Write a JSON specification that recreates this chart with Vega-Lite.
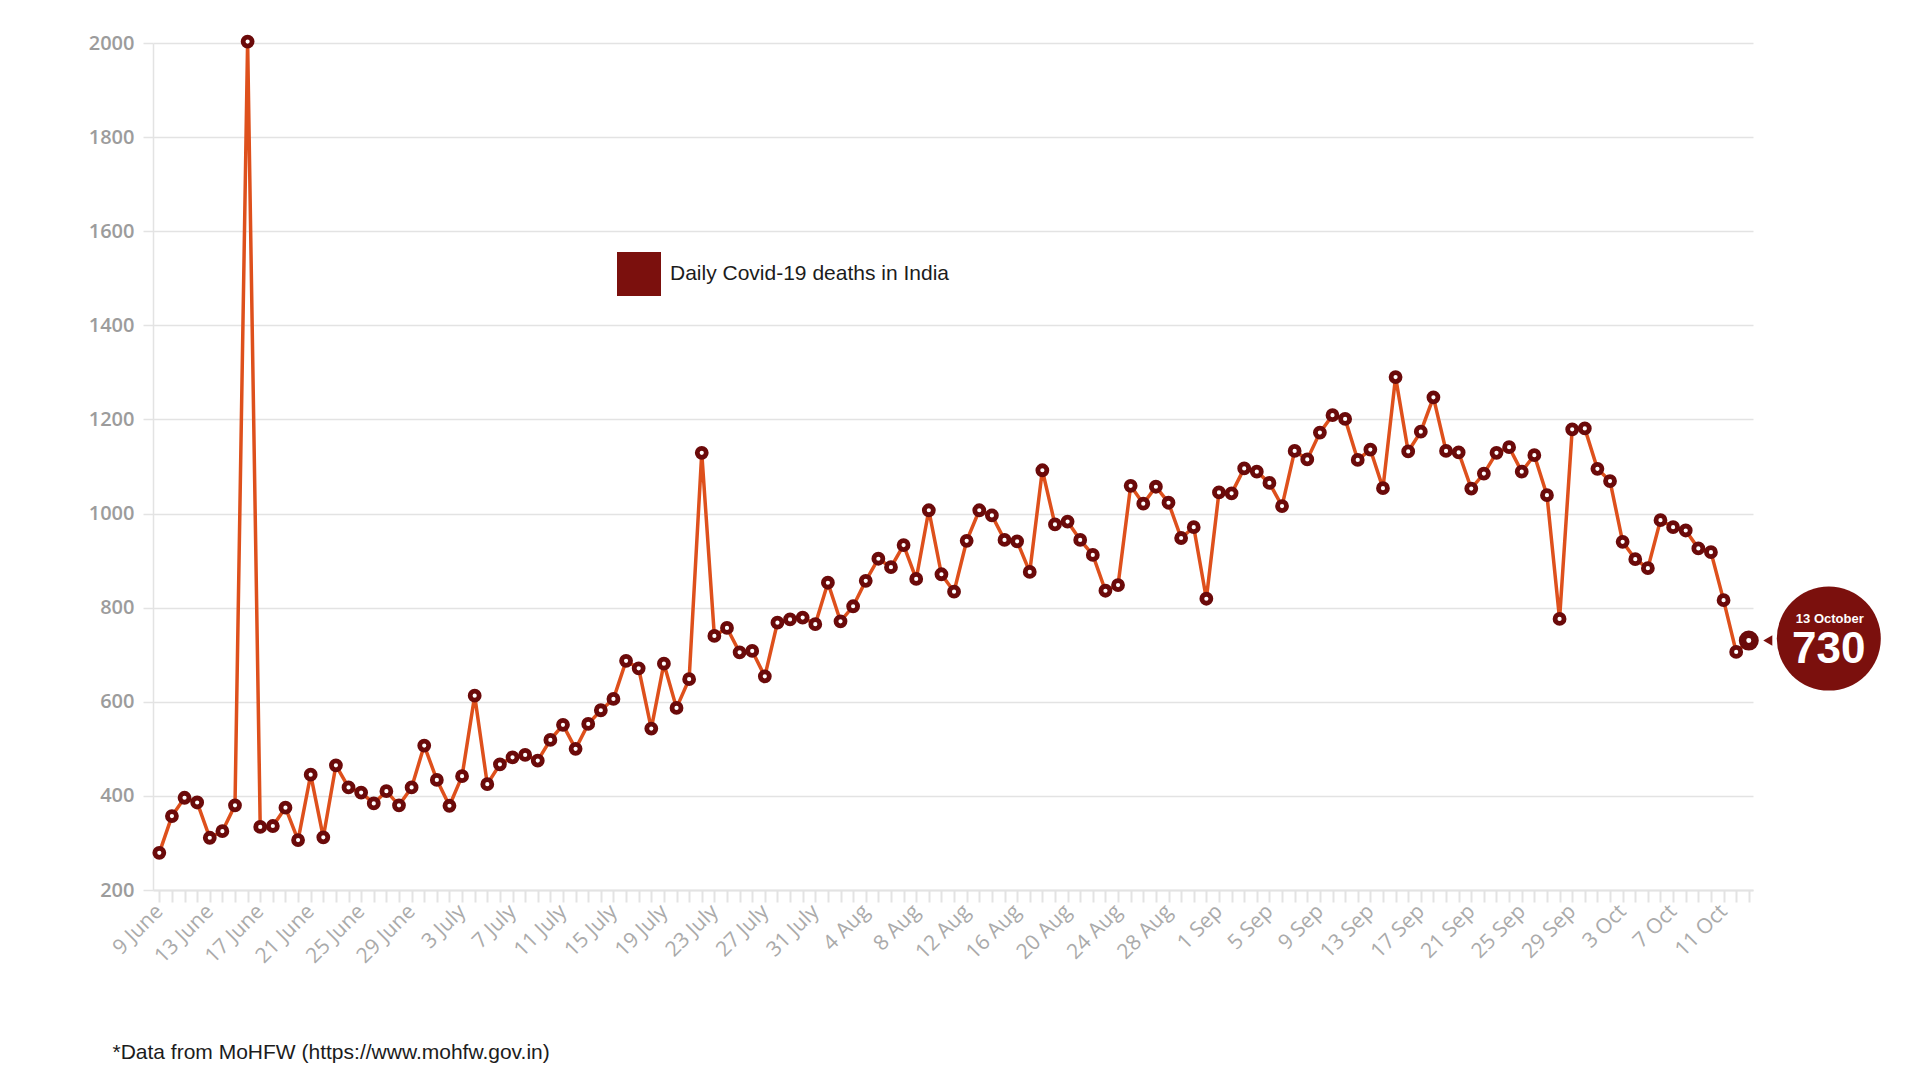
{
  "$schema": "https://vega.github.io/schema/vega-lite/v6.json",
  "width": 1600,
  "height": 847,
  "autosize": {"type": "none"},
  "padding": {"left": 153, "top": 43, "right": 167, "bottom": 190},
  "background": "white",
  "config": {"view": {"stroke": null}, "font": "Open Sans"},
  "data": {"values": [
    {"date":"2020-06-09","deaths":279},{"date":"2020-06-10","deaths":357},{"date":"2020-06-11","deaths":396},{"date":"2020-06-12","deaths":386},{"date":"2020-06-13","deaths":311},{"date":"2020-06-14","deaths":325},{"date":"2020-06-15","deaths":380},{"date":"2020-06-16","deaths":2003},{"date":"2020-06-17","deaths":334},{"date":"2020-06-18","deaths":336},{"date":"2020-06-19","deaths":375},{"date":"2020-06-20","deaths":306},{"date":"2020-06-21","deaths":445},{"date":"2020-06-22","deaths":312},{"date":"2020-06-23","deaths":465},{"date":"2020-06-24","deaths":418},{"date":"2020-06-25","deaths":407},{"date":"2020-06-26","deaths":384},{"date":"2020-06-27","deaths":410},{"date":"2020-06-28","deaths":380},{"date":"2020-06-29","deaths":418},{"date":"2020-06-30","deaths":507},
    {"date":"2020-07-01","deaths":434},{"date":"2020-07-02","deaths":379},{"date":"2020-07-03","deaths":442},{"date":"2020-07-04","deaths":613},{"date":"2020-07-05","deaths":425},{"date":"2020-07-06","deaths":467},{"date":"2020-07-07","deaths":482},{"date":"2020-07-08","deaths":487},{"date":"2020-07-09","deaths":475},{"date":"2020-07-10","deaths":519},{"date":"2020-07-11","deaths":551},{"date":"2020-07-12","deaths":500},{"date":"2020-07-13","deaths":553},{"date":"2020-07-14","deaths":582},{"date":"2020-07-15","deaths":606},{"date":"2020-07-16","deaths":687},{"date":"2020-07-17","deaths":671},{"date":"2020-07-18","deaths":543},{"date":"2020-07-19","deaths":681},{"date":"2020-07-20","deaths":587},{"date":"2020-07-21","deaths":648},{"date":"2020-07-22","deaths":1129},{"date":"2020-07-23","deaths":740},{"date":"2020-07-24","deaths":757},{"date":"2020-07-25","deaths":705},{"date":"2020-07-26","deaths":708},{"date":"2020-07-27","deaths":654},{"date":"2020-07-28","deaths":768},{"date":"2020-07-29","deaths":775},{"date":"2020-07-30","deaths":779},{"date":"2020-07-31","deaths":765},
    {"date":"2020-08-01","deaths":853},{"date":"2020-08-02","deaths":771},{"date":"2020-08-03","deaths":803},{"date":"2020-08-04","deaths":857},{"date":"2020-08-05","deaths":904},{"date":"2020-08-06","deaths":886},{"date":"2020-08-07","deaths":933},{"date":"2020-08-08","deaths":861},{"date":"2020-08-09","deaths":1007},{"date":"2020-08-10","deaths":871},{"date":"2020-08-11","deaths":834},{"date":"2020-08-12","deaths":942},{"date":"2020-08-13","deaths":1007},{"date":"2020-08-14","deaths":996},{"date":"2020-08-15","deaths":944},{"date":"2020-08-16","deaths":941},{"date":"2020-08-17","deaths":876},{"date":"2020-08-18","deaths":1092},{"date":"2020-08-19","deaths":977},{"date":"2020-08-20","deaths":983},{"date":"2020-08-21","deaths":944},{"date":"2020-08-22","deaths":912},{"date":"2020-08-23","deaths":836},{"date":"2020-08-24","deaths":848},{"date":"2020-08-25","deaths":1059},{"date":"2020-08-26","deaths":1021},{"date":"2020-08-27","deaths":1057},{"date":"2020-08-28","deaths":1023},{"date":"2020-08-29","deaths":948},{"date":"2020-08-30","deaths":971},{"date":"2020-08-31","deaths":819},
    {"date":"2020-09-01","deaths":1045},{"date":"2020-09-02","deaths":1043},{"date":"2020-09-03","deaths":1096},{"date":"2020-09-04","deaths":1089},{"date":"2020-09-05","deaths":1065},{"date":"2020-09-06","deaths":1016},{"date":"2020-09-07","deaths":1133},{"date":"2020-09-08","deaths":1115},{"date":"2020-09-09","deaths":1172},{"date":"2020-09-10","deaths":1209},{"date":"2020-09-11","deaths":1201},{"date":"2020-09-12","deaths":1114},{"date":"2020-09-13","deaths":1136},{"date":"2020-09-14","deaths":1054},{"date":"2020-09-15","deaths":1290},{"date":"2020-09-16","deaths":1132},{"date":"2020-09-17","deaths":1174},{"date":"2020-09-18","deaths":1247},{"date":"2020-09-19","deaths":1133},{"date":"2020-09-20","deaths":1130},{"date":"2020-09-21","deaths":1053},{"date":"2020-09-22","deaths":1085},{"date":"2020-09-23","deaths":1129},{"date":"2020-09-24","deaths":1141},{"date":"2020-09-25","deaths":1089},{"date":"2020-09-26","deaths":1124},{"date":"2020-09-27","deaths":1039},{"date":"2020-09-28","deaths":776},{"date":"2020-09-29","deaths":1179},{"date":"2020-09-30","deaths":1181},
    {"date":"2020-10-01","deaths":1095},{"date":"2020-10-02","deaths":1069},{"date":"2020-10-03","deaths":940},{"date":"2020-10-04","deaths":903},{"date":"2020-10-05","deaths":884},{"date":"2020-10-06","deaths":986},{"date":"2020-10-07","deaths":971},{"date":"2020-10-08","deaths":964},{"date":"2020-10-09","deaths":926},{"date":"2020-10-10","deaths":918},{"date":"2020-10-11","deaths":816},{"date":"2020-10-12","deaths":706},{"date":"2020-10-13","deaths":730}
  ]},
  "encoding": {
    "x": {
      "field": "date",
      "type": "temporal",
      "scale": {"type": "utc", "domain": [
        {"year": 2020, "month": 6, "date": 8, "hours": 12, "utc": true},
        {"year": 2020, "month": 10, "date": 13, "hours": 8, "utc": true}
      ]},
      "title": "*Data from MoHFW (https://www.mohfw.gov.in)",
      "axis": {
        "tickCount": {"interval": "day", "step": 1},
        "labelExpr": "round((datum.value - 1591660800000) / 86400000) % 4 == 0 ? (utcmonth(datum.value) < 7 ? utcFormat(datum.value, '%-d %B') : utcFormat(datum.value, '%-d %b')) : ''",
        "labelAngle": -45,
        "labelAlign": "right",
        "labelBaseline": "middle",
        "labelFont": "Open Sans",
        "labelFontSize": 21,
        "labelColor": "#aaaaaa",
        "labelPadding": 6,
        "labelOverlap": false,
        "labelFlush": false,
        "labelBound": false,
        "tickSize": 12,
        "tickColor": "#e3e3e3",
        "tickWidth": 2,
        "domainColor": "#e3e3e3",
        "domainWidth": 2,
        "grid": false,
        "titleX": -41,
        "titleY": 168,
        "titleAlign": "left",
        "titleAnchor": null,
        "titleAngle": 0,
        "titleBaseline": "alphabetic",
        "titleFont": "Liberation Sans",
        "titleFontSize": 21,
        "titleFontWeight": "normal",
        "titleColor": "#1c1c1c"
      }
    },
    "y": {
      "field": "deaths",
      "type": "quantitative",
      "scale": {"domain": [200, 2000], "nice": false, "zero": false},
      "axis": {
        "values": [200, 400, 600, 800, 1000, 1200, 1400, 1600, 1800, 2000],
        "format": "d",
        "title": null,
        "grid": true,
        "gridColor": "#e3e3e3",
        "gridWidth": 1.5,
        "tickSize": 10,
        "tickColor": "#e3e3e3",
        "tickWidth": 1.5,
        "domain": true,
        "domainColor": "#e3e3e3",
        "domainWidth": 1.5,
        "labelFont": "Open Sans",
        "labelFontSize": 20,
        "labelFontWeight": 600,
        "labelColor": "#9c9c9c",
        "labelPadding": 9
      }
    }
  },
  "layer": [
    {"mark": {"type": "line", "color": "#de501c", "strokeWidth": 3.5}},
    {"mark": {"type": "point", "shape": "circle", "filled": true, "fill": "white", "stroke": "#6b0a0a", "strokeWidth": 4.8, "size": 81, "opacity": 1}},
    {
      "transform": [{"filter": "datum.deaths == 730"}],
      "mark": {"type": "point", "shape": "triangle-left", "filled": true, "fill": "#7b100d", "strokeWidth": 0, "size": 110, "opacity": 1, "xOffset": 19}
    },
    {
      "transform": [{"filter": "datum.deaths == 730"}],
      "mark": {"type": "point", "shape": "circle", "filled": true, "size": 10816, "opacity": 1, "strokeWidth": 0, "xOffset": 80, "yOffset": -2},
      "encoding": {
        "color": {
          "datum": "Daily Covid-19 deaths in India",
          "scale": {"range": ["#7b100d"]},
          "legend": {
            "orient": "none",
            "legendX": 464,
            "legendY": 209,
            "title": null,
            "padding": 0,
            "symbolType": "square",
            "symbolSize": 1936,
            "symbolStrokeWidth": 0,
            "symbolFillColor": "#7b100d",
            "symbolOpacity": 1,
            "labelFont": "Liberation Sans",
            "labelFontSize": 21,
            "labelColor": "#1c1c1c",
            "labelOffset": 9,
            "labelLimit": 600,
            "encode": {"symbols": {"update": {"fill": {"value": "#7b100d"}, "shape": {"value": "square"}, "opacity": {"value": 1}}}}
          }
        }
      }
    },
    {
      "transform": [{"filter": "datum.deaths == 730"}],
      "mark": {"type": "text", "text": "13 October", "font": "Liberation Sans", "fontWeight": "bold", "fontSize": 13, "color": "white", "align": "center", "baseline": "alphabetic", "xOffset": 81, "yOffset": -18}
    },
    {
      "transform": [{"filter": "datum.deaths == 730"}],
      "mark": {"type": "text", "font": "Liberation Sans", "fontWeight": "bold", "fontSize": 44, "color": "white", "align": "center", "baseline": "alphabetic", "xOffset": 80, "yOffset": 22},
      "encoding": {"text": {"field": "deaths", "type": "quantitative"}}
    },
    {
      "transform": [{"filter": "datum.deaths == 730"}],
      "mark": {"type": "point", "shape": "circle", "filled": true, "fill": "white", "stroke": "#6b0a0a", "strokeWidth": 7.5, "size": 156, "opacity": 1}
    }
  ]
}
